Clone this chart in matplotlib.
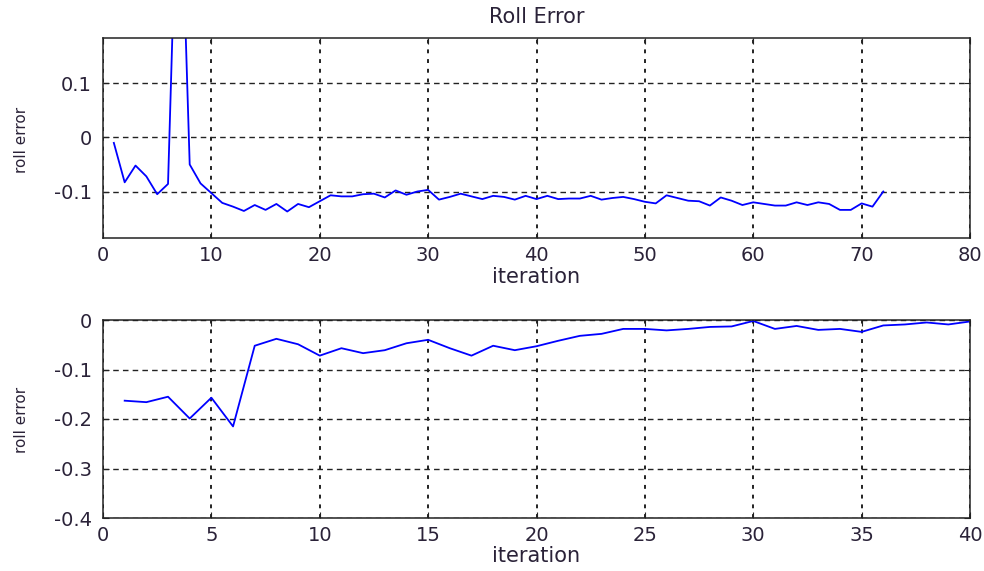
import matplotlib
matplotlib.use("Agg")
import matplotlib.pyplot as plt

plt.rcParams['font.family'] = ['DejaVu Sans']

# Top plot data (iterations 1..72)
top_x = list(range(1, 73))
top_y = [-0.010, -0.083, -0.052, -0.072, -0.105, -0.086, 0.600, -0.050, -0.085, -0.103,
         -0.121, -0.128, -0.136, -0.125, -0.134, -0.123, -0.137, -0.123, -0.129, -0.118,
         -0.107, -0.109, -0.109, -0.105, -0.104, -0.111, -0.098, -0.106, -0.100, -0.097,
         -0.115, -0.110, -0.104, -0.109, -0.114, -0.108, -0.110, -0.115, -0.108, -0.114,
         -0.108, -0.114, -0.113, -0.113, -0.108, -0.115, -0.112, -0.110, -0.114, -0.119,
         -0.122, -0.107, -0.112, -0.117, -0.118, -0.126, -0.111, -0.117, -0.125, -0.120,
         -0.123, -0.126, -0.126, -0.120, -0.125, -0.120, -0.123, -0.134, -0.134, -0.122,
         -0.128, -0.100]

# Bottom plot data (iterations 1..40)
bot_x = list(range(1, 41))
bot_y = [-0.163, -0.166, -0.155, -0.199, -0.157, -0.215, -0.052, -0.038, -0.049, -0.072,
         -0.057, -0.067, -0.061, -0.047, -0.040, -0.057, -0.072, -0.052, -0.061, -0.053,
         -0.042, -0.032, -0.028, -0.018, -0.018, -0.021, -0.018, -0.014, -0.013, -0.002,
         -0.018, -0.012, -0.020, -0.018, -0.024, -0.011, -0.009, -0.005, -0.009, -0.003]

top_xticks = [0, 10, 20, 30, 40, 50, 60, 70, 80]
top_yticks = [-0.1, 0, 0.1]
top_ytick_labels = ['-0.1', '0', '0.1']
bot_xticks = [0, 5, 10, 15, 20, 25, 30, 35, 40]
bot_yticks = [-0.4, -0.3, -0.2, -0.1, 0]
bot_ytick_labels = ['-0.4', '-0.3', '-0.2', '-0.1', '0']

W, H = 984, 571
fig = plt.figure(figsize=(W / 100, H / 100), dpi=100)
TXT = '#2a2238'

def ax_rect(l, t, r, b):
    return [l / W, 1 - b / H, (r - l) / W, (b - t) / H]

ax1 = fig.add_axes(ax_rect(103, 38, 970, 238))
ax2 = fig.add_axes(ax_rect(103, 320, 970, 518))

def style(ax):
    for s in ax.spines.values():
        s.set_color('#222222')
        s.set_linewidth(1.1)
    ax.tick_params(direction='in', top=True, right=True, length=4, width=0.8,
                   labelsize=14, colors='#222222', labelcolor=TXT)
    ax.tick_params(axis='x', pad=6)
    ax.tick_params(axis='y', pad=8)
    ax.xaxis.grid(True, color='#222222', linestyle=(0, (2, 3)), linewidth=1.4)
    ax.yaxis.grid(True, color='#222222', linestyle=(0, (4, 3)), linewidth=1.0)
    ax.set_axisbelow(True)

ax1.plot(top_x, top_y, color='#0000FF', linewidth=1.3)
ax1.set_xlim(0, 80)
ax1.set_ylim(-0.186, 0.184)
ax1.set_xticks(top_xticks)
ax1.set_yticks(top_yticks)
ax1.set_yticklabels(top_ytick_labels)
style(ax1)

ax2.plot(bot_x, bot_y, color='#0000FF', linewidth=1.3)
ax2.set_xlim(0, 40)
ax2.set_ylim(-0.4, 0)
ax2.set_xticks(bot_xticks)
ax2.set_yticks(bot_yticks)
ax2.set_yticklabels(bot_ytick_labels)
style(ax2)

cx = (103 + 970) / 2 / W
fig.text(cx, 1 - 17 / H, 'Roll Error', fontsize=15, ha='center', va='center', color=TXT)
fig.text(cx, 1 - 277 / H, 'iteration', fontsize=15, ha='center', va='center', color=TXT)
fig.text(cx, 1 - 556 / H, 'iteration', fontsize=15, ha='center', va='center', color=TXT)
fig.text(21 / W, 1 - 140 / H, 'roll error', fontsize=11, rotation=90,
         ha='center', va='center', color=TXT)
fig.text(21 / W, 1 - 420 / H, 'roll error', fontsize=11, rotation=90,
         ha='center', va='center', color=TXT)

fig.savefig('out.png', dpi=100)
